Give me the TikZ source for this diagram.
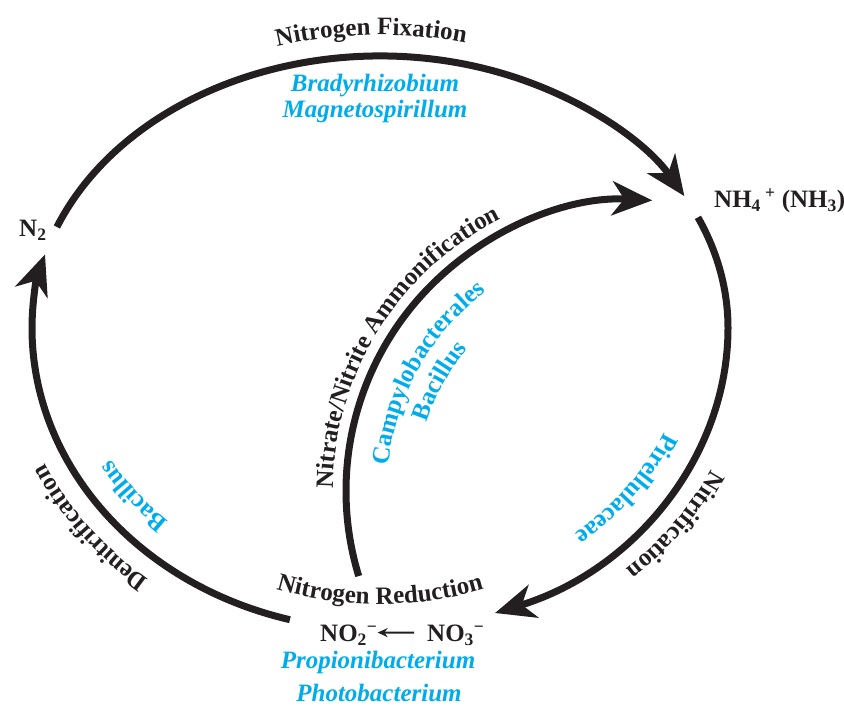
\documentclass[tikz,border=0pt]{standalone}
\usepackage{fontspec}
\setmainfont{Liberation Serif}
\usetikzlibrary{arrows.meta,decorations.text,calc}

\definecolor{cycleblack}{RGB}{35,31,32}
\definecolor{bactblue}{RGB}{0,172,236}

\newcommand\lblfont{\bfseries\fontsize{25}{30}\selectfont}

\tikzset{
  cycle arrow/.style={line width=7pt, draw=cycleblack, -{Stealth[length=40pt,width=34pt,inset=12pt]}},
  species/.style={text=bactblue, font=\bfseries\itshape\fontsize{25}{30}\selectfont, inner sep=0pt, anchor=base},
  compound/.style={text=cycleblack, font=\bfseries\fontsize{25}{30}\selectfont, inner sep=0pt, anchor=base west},
  arc label/.style={decorate, decoration={text along path, text align=center, text color=cycleblack, text={|\lblfont|#1}}},
  bact label/.style={decorate, decoration={text along path, text align=center, text color=bactblue, text={|\lblfont|#1}}},
}

\begin{document}
\begin{tikzpicture}[x=1pt,y=1pt]
\useasboundingbox (0,0) rectangle (844,710);
\coordinate (ctr) at (380,382);   % centre of the big cycle
\coordinate (ictr) at (637,219);  % centre of the inner arc

% compounds
\node[compound] (n2) at (19,473) {N\textsubscript{2}};
\node[compound] (nh4) at (714,502) {NH\textsubscript{4}\,\textsuperscript{+} (NH\textsubscript{3})};
\node[compound] (no2) at (320,68) {NO\textsubscript{2}\textsuperscript{−}};
\node[compound] (no3) at (427,68) {NO\textsubscript{3}\textsuperscript{−}};
\draw[line width=2pt, cycleblack, -{Stealth[length=10pt,width=9pt]}, shorten <=13pt] ([yshift=3pt]no3.west) -- ([yshift=3pt]no2.east);

% Nitrogen fixation
\coordinate (fixS) at ($(ctr)+(158.2:348pt and 272pt)$);
\draw[cycle arrow] (fixS) arc[start angle=158.2, end angle=29, x radius=348pt, y radius=272pt];
% Nitrification
\coordinate (nitS) at ($(ctr)+(24:348pt and 272pt)$);
\draw[cycle arrow] (nitS) arc[start angle=24, end angle=0, x radius=348pt, y radius=272pt]
  arc[start angle=0, end angle=-70.7, x radius=348pt, y radius=302pt];
% Denitrification
\coordinate (denS) at ($(ctr)+(255:348pt and 302pt)$);
\draw[cycle arrow] (denS) arc[start angle=255, end angle=180, x radius=348pt, y radius=302pt]
  arc[start angle=180, end angle=164.3, x radius=348pt, y radius=272pt];
% Ammonification
\coordinate (ammS) at ($(ictr)+(197:291pt)$);
\draw[cycle arrow] (ammS) arc[start angle=197, end angle=87, radius=291pt];

% process labels
\path[arc label=Nitrogen Fixation] ($(ctr)+(131:369pt and 293pt)$) arc[start angle=131, end angle=52, x radius=369pt, y radius=293pt];
\path[arc label=Nitrification] ($(ctr)+(-1:369pt and 323pt)$) arc[start angle=-1, end angle=-71, x radius=369pt, y radius=323pt];
\path[arc label=Denitrification] ($(ctr)+(252:369pt and 323pt)$) arc[start angle=252, end angle=182, x radius=369pt, y radius=323pt];
\path[arc label=Nitrogen Reduction] ($(ctr)+(235:322pt and 276pt)$) arc[start angle=235, end angle=305, x radius=322pt, y radius=276pt];
\path[arc label=Nitrate/Nitrite Ammonification] ($(ictr)+(200:304pt)$) arc[start angle=200, end angle=96, radius=304pt];

% bacteria
\path[bact label=Bacillus] ($(ctr)+(252:310pt and 264pt)$) arc[start angle=252, end angle=182, x radius=310pt, y radius=264pt];
\path[bact label=Pirellulaceae] ($(ctr)+(-1:310pt and 264pt)$) arc[start angle=-1, end angle=-71, x radius=310pt, y radius=264pt];
\path[bact label=Campylobacterales] ($(ictr)+(200.6:250pt)$) arc[start angle=200.6, end angle=100.6, radius=250pt];
\path[bact label=Bacillus] ($(ictr)+(201:221pt)$) arc[start angle=201, end angle=101, radius=221pt];
\node[species] (brady) at (375,618) {Bradyrhizobium};
\node[species] (magneto) at (375,592) {Magnetospirillum};
\node[species] (propioni) at (378,41) {Propionibacterium};
\node[species] (photo) at (379,9) {Photobacterium};
\end{tikzpicture}
\end{document}
